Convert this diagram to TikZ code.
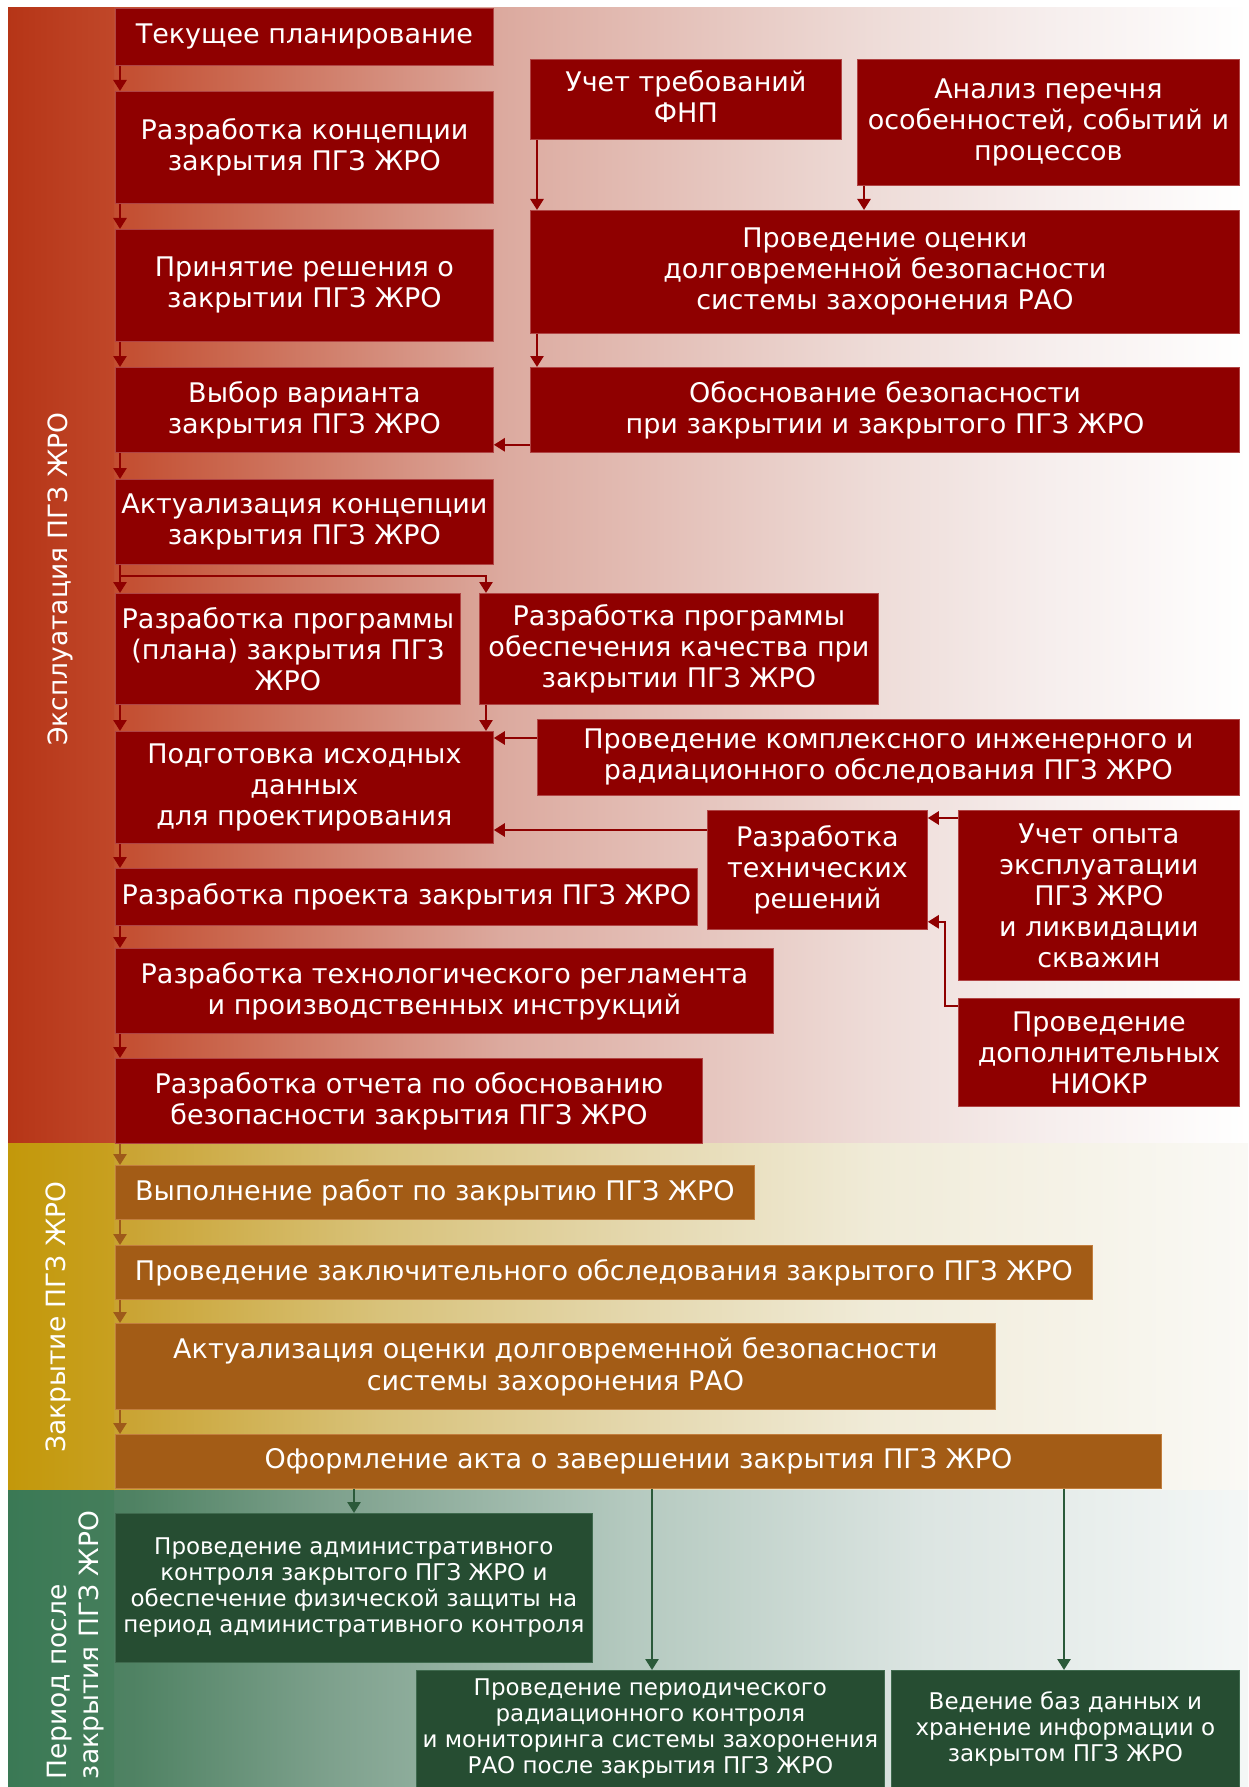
\documentclass[tikz,border=0pt]{standalone}
\usepackage{fontspec}
\setmainfont{DejaVu Sans}
\usetikzlibrary{arrows.meta}

\definecolor{boxred}{HTML}{8F0000}
\definecolor{boxredE}{HTML}{B04444}
\definecolor{boxbrown}{HTML}{A35C16}
\definecolor{boxbrownE}{HTML}{C27E3E}
\definecolor{boxgreen}{HTML}{264D32}
\definecolor{boxgreenE}{HTML}{3F6A4E}
\definecolor{arrred}{HTML}{8F0000}
\definecolor{arrbrown}{HTML}{9E5A1A}
\definecolor{arrgreen}{HTML}{2B5A3A}

\definecolor{rgA}{HTML}{C0462A}
\definecolor{rgB}{HTML}{C45033}
\definecolor{rgC}{HTML}{DCAA9F}
\definecolor{rgD}{HTML}{EEDCD8}
\definecolor{rgE}{HTML}{F6EEED}
\definecolor{rgF}{HTML}{FFFFFF}
\definecolor{ggA}{HTML}{C59D1A}
\definecolor{ggB}{HTML}{CAA434}
\definecolor{ggC}{HTML}{D8C27A}
\definecolor{ggD}{HTML}{E4D7AC}
\definecolor{ggE}{HTML}{F0EBD8}
\definecolor{ggF}{HTML}{FAF9F5}
\definecolor{vgA}{HTML}{467D5C}
\definecolor{vgB}{HTML}{4F8263}
\definecolor{vgC}{HTML}{7EA18D}
\definecolor{vgD}{HTML}{B4C9BF}
\definecolor{vgE}{HTML}{DCE5E2}
\definecolor{vgF}{HTML}{F4F7F6}
\definecolor{stripRa}{HTML}{B63517}
\definecolor{stripRb}{HTML}{C04729}
\definecolor{stripGa}{HTML}{C3980A}
\definecolor{stripGb}{HTML}{C8A020}
\definecolor{stripVa}{HTML}{3A7955}
\definecolor{stripVb}{HTML}{457E5B}

\pgfdeclarehorizontalshading{redgrad}{100bp}{color(0bp)=(rgA); color(25bp)=(rgA); color(30bp)=(rgB); color(45bp)=(rgC); color(60bp)=(rgD); color(67bp)=(rgE); color(75bp)=(rgF); color(100bp)=(rgF)}
\pgfdeclarehorizontalshading{goldgrad}{100bp}{color(0bp)=(ggA); color(25bp)=(ggA); color(30bp)=(ggB); color(40bp)=(ggC); color(50bp)=(ggD); color(60bp)=(ggE); color(75bp)=(ggF); color(100bp)=(ggF)}
\pgfdeclarehorizontalshading{greengrad}{100bp}{color(0bp)=(vgA); color(25bp)=(vgA); color(30bp)=(vgB); color(38bp)=(vgC); color(50bp)=(vgD); color(62bp)=(vgE); color(75bp)=(vgF); color(100bp)=(vgF)}

\tikzset{
  rbox/.style={anchor=north west, fill=boxred, draw=boxredE, line width=0.8pt, inner sep=0pt, align=center, text=white, font=\fontsize{27}{31}\selectfont},
  bbox/.style={anchor=north west, fill=boxbrown, draw=boxbrownE, line width=0.8pt, inner sep=0pt, align=center, text=white, font=\fontsize{27}{32}\selectfont},
  gbox/.style={anchor=north west, fill=boxgreen, draw=boxgreenE, line width=0.8pt, inner sep=0pt, align=center, text=white, font=\fontsize{23}{26}\selectfont},
  lab/.style={rotate=90, text=white, inner sep=0pt, font=\fontsize{26.5}{32}\selectfont},
  arr/.style={draw=arrred, line width=2.6pt, -{Triangle[length=11pt,width=13pt]}},
  barr/.style={draw=arrbrown, line width=2.6pt, -{Triangle[length=11pt,width=13pt]}},
  garr/.style={draw=arrgreen, line width=2.6pt, -{Triangle[length=11pt,width=13pt]}},
}

\begin{document}
\begin{tikzpicture}[x=1pt, y=-1pt]
\useasboundingbox (0,0) rectangle (1248,1787);
\fill[white] (0,0) rectangle (1248,1787);

% bands
\fill[shading=redgrad] (8,8) rectangle (1248,1143);
\fill[shading=goldgrad] (8,1143) rectangle (1248,1490);
\fill[shading=greengrad] (8,1490) rectangle (1248,1787);
\fill[left color=stripRa, right color=stripRb] (8,8) rectangle (114,1143);
\fill[left color=stripGa, right color=stripGb] (8,1143) rectangle (114,1490);
\fill[left color=stripVa, right color=stripVb] (8,1490) rectangle (114,1787);

% band labels
\node[lab] (l1) at (60,579) {Эксплуатация ПГЗ ЖРО};
\node[lab] (l2) at (58,1317) {Закрытие ПГЗ ЖРО};
\node[lab, align=left] (l3) at (76,1645) {Период после\\закрытия ПГЗ ЖРО};

% left column (operation)
\node[rbox, minimum width=378pt, minimum height=57pt] (b1) at (115,8) {Текущее планирование};
\node[rbox, minimum width=378pt, minimum height=112pt] (b2) at (115,91) {Разработка концепции\\закрытия ПГЗ ЖРО};
\node[rbox, minimum width=378pt, minimum height=112pt] (b3) at (115,229) {Принятие решения о\\закрытии ПГЗ ЖРО};
\node[rbox, minimum width=378pt, minimum height=85pt] (b4) at (115,367) {Выбор варианта\\закрытия ПГЗ ЖРО};
\node[rbox, minimum width=378pt, minimum height=85pt] (b5) at (115,479) {Актуализация концепции\\закрытия ПГЗ ЖРО};
\node[rbox, minimum width=345pt, minimum height=111pt] (b6) at (115,593) {Разработка программы\\(плана) закрытия ПГЗ\\ЖРО};
\node[rbox, minimum width=399pt, minimum height=111pt] (b7) at (479,593) {Разработка программы\\обеспечения качества при\\закрытии ПГЗ ЖРО};
\node[rbox, minimum width=378pt, minimum height=112pt] (b8) at (115,731) {Подготовка исходных\\данных\\для проектирования};
\node[rbox, minimum width=582pt, minimum height=57pt] (b9) at (115,868) {Разработка проекта закрытия ПГЗ ЖРО};
\node[rbox, minimum width=658pt, minimum height=85pt] (b10) at (115,948) {Разработка технологического регламента\\и производственных инструкций};
\node[rbox, minimum width=587pt, minimum height=85pt] (b11) at (115,1058) {Разработка отчета по обоснованию\\безопасности закрытия ПГЗ ЖРО};

% right column
\node[rbox, minimum width=311pt, minimum height=80pt] (b12) at (530,59) {Учет требований\\ФНП\rule[-6pt]{0pt}{0pt}};
\node[rbox, minimum width=382pt, minimum height=126pt] (b13) at (857,59) {Анализ перечня\\особенностей, событий и\\процессов};
\node[rbox, minimum width=709pt, minimum height=123pt] (b14) at (530,210) {Проведение оценки\\долговременной безопасности\\системы захоронения РАО};
\node[rbox, minimum width=709pt, minimum height=85pt] (b15) at (530,367) {Обоснование безопасности\\при закрытии и закрытого ПГЗ ЖРО};
\node[rbox, minimum width=702pt, minimum height=76pt] (b16) at (537,719) {Проведение комплексного инженерного и\\радиационного обследования ПГЗ ЖРО};
\node[rbox, minimum width=220pt, minimum height=119pt] (b17) at (707,810) {Разработка\\технических\\решений};
\node[rbox, minimum width=281pt, minimum height=170pt] (b18) at (958,810) {Учет опыта\\эксплуатации\\ПГЗ ЖРО\\и ликвидации\\скважин};
\node[rbox, minimum width=281pt, minimum height=108pt] (b19) at (958,998) {Проведение\\дополнительных\\НИОКР};

% closure
\node[bbox, minimum width=639pt, minimum height=54pt] (b20) at (115,1165) {Выполнение работ по закрытию ПГЗ ЖРО};
\node[bbox, minimum width=977pt, minimum height=54pt] (b21) at (115,1245) {Проведение заключительного обследования закрытого ПГЗ ЖРО};
\node[bbox, minimum width=880pt, minimum height=86pt] (b22) at (115,1323) {Актуализация оценки долговременной безопасности\\системы захоронения РАО};
\node[bbox, minimum width=1046pt, minimum height=54pt] (b23) at (115,1434) {Оформление акта о завершении закрытия ПГЗ ЖРО};

% post-closure
\node[gbox, minimum width=477pt, minimum height=149pt] (b24) at (115,1513) {Проведение административного\\контроля закрытого ПГЗ ЖРО и\\обеспечение физической защиты на\\период административного контроля};
\node[gbox, minimum width=468pt, minimum height=117pt] (b25) at (416,1670) {Проведение периодического\\радиационного контроля\\и мониторинга системы захоронения\\РАО после закрытия ПГЗ ЖРО};
\node[gbox, minimum width=348pt, minimum height=117pt] (b26) at (891,1670) {Ведение баз данных и\\хранение информации о\\закрытом ПГЗ ЖРО};

% main left chain
\draw[arr] ([xshift=5pt]b1.south west) -- ([xshift=5pt]b2.north west);
\draw[arr] ([xshift=5pt]b2.south west) -- ([xshift=5pt]b3.north west);
\draw[arr] ([xshift=5pt]b3.south west) -- ([xshift=5pt]b4.north west);
\draw[arr] ([xshift=5pt]b4.south west) -- ([xshift=5pt]b5.north west);
\draw[arr] ([xshift=5pt]b5.south west) -- ([xshift=5pt]b6.north west);
\draw[arr] ([xshift=5pt]b5.south west) -- ++(0,11) -| ([xshift=7pt]b7.north west);
\draw[arr] ([xshift=5pt]b6.south west) -- ([xshift=5pt]b8.north west);
\draw[arr] ([xshift=7pt]b7.south west) -- ([xshift=7pt]b7.south west |- b8.north);
\draw[arr] ([xshift=5pt]b8.south west) -- ([xshift=5pt]b9.north west);
\draw[arr] ([xshift=5pt]b9.south west) -- ([xshift=5pt]b10.north west);
\draw[arr] ([xshift=5pt]b10.south west) -- ([xshift=5pt]b11.north west);

% right column arrows
\draw[arr] ([xshift=7pt]b12.south west) -- ([xshift=7pt]b12.south west |- b14.north);
\draw[arr] ([xshift=7pt]b13.south west) -- ([xshift=7pt]b13.south west |- b14.north);
\draw[arr] ([xshift=7pt]b14.south west) -- ([xshift=7pt]b14.south west |- b15.north);
\draw[arr] ([yshift=8pt]b15.south west) -- ([yshift=8pt]b15.south west -| b4.east);
\draw[arr] ([yshift=-19pt]b16.north west) -- ([yshift=-19pt]b16.north west -| b8.east);
\draw[arr] ([yshift=-20pt]b17.north west) -- ([yshift=-20pt]b17.north west -| b8.east);
\draw[arr] ([yshift=-8pt]b18.north west) -- ([yshift=-8pt]b18.north west -| b17.east);
\draw[arr] ([yshift=-8pt]b19.north west) -- ++(-13,0) |- ([yshift=8pt]b17.south east);

% closure chain
\draw[barr] ([xshift=5pt]b11.south west) -- ([xshift=5pt]b20.north west);
\draw[barr] ([xshift=5pt]b20.south west) -- ([xshift=5pt]b21.north west);
\draw[barr] ([xshift=5pt]b21.south west) -- ([xshift=5pt]b22.north west);
\draw[barr] ([xshift=5pt]b22.south west) -- ([xshift=5pt]b23.north west);

% post-closure arrows
\draw[garr] ([xshift=239pt]b23.south west) -- ([xshift=239pt]b23.south west |- b24.north);
\draw[garr] ([xshift=537pt]b23.south west) -- ([xshift=537pt]b23.south west |- b25.north);
\draw[garr] ([xshift=949pt]b23.south west) -- ([xshift=949pt]b23.south west |- b26.north);
\end{tikzpicture}
\end{document}
